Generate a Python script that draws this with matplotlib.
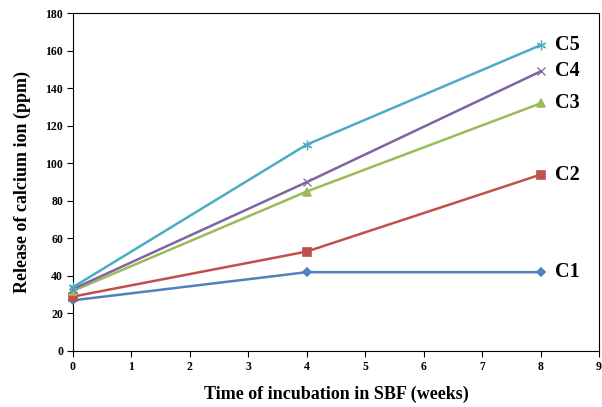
import matplotlib
matplotlib.use('Agg')
from matplotlib import pyplot as plt

weeks = [0, 4, 8]
c1 = [27, 42, 42]
c2 = [29, 53, 94]
c3 = [32, 85, 132]
c4 = [33, 90, 149]
c5 = [34, 110, 163]
names = ['C1', 'C2', 'C3', 'C4', 'C5']

colors = ['#4F81BD', '#C0504D', '#9BBB59', '#8064A2', '#4BACC6']
markers = ['D', 's', '^', 'x', (6, 2, 0)]
sizes = [4, 6, 6, 6, 7]
edge_w = [1.2, 1.2, 1.2, 0.9, 0.9]

plt.rcParams['font.family'] = 'Liberation Serif'
plt.rcParams['font.weight'] = 'bold'

fig = plt.figure(figsize=(6.02, 4.07), dpi=100)
ax = fig.add_axes([0.121, 0.1376, 0.874, 0.8297])

for vals, name, col, mk, ms, mw in zip([c1, c2, c3, c4, c5], names, colors, markers, sizes, edge_w):
    ax.plot(weeks, vals, color=col, lw=1.8, marker=mk, ms=ms, mew=mw, clip_on=False, zorder=3)
    ax.text(weeks[-1] + 0.25, vals[-1], name, fontsize=14.5, fontweight='bold',
            va='center', ha='left')

ax.set_xlim(0, 9)
ax.set_ylim(0, 180)
ax.set_xticks(range(0, 10))
ax.set_yticks(range(0, 181, 20))
ax.tick_params(direction='out', length=4, width=0.8, labelsize=8.5, pad=3)
for lab in ax.get_xticklabels() + ax.get_yticklabels():
    lab.set_fontweight('bold')
for sp in ax.spines.values():
    sp.set_linewidth(0.8)

ax.set_xlabel('Time of incubation in SBF (weeks)', fontsize=13, fontweight='bold', labelpad=9)
ax.set_ylabel('Release of calcium ion (ppm)', fontsize=13, fontweight='bold', labelpad=10)

fig.savefig('out.png', dpi=100)
